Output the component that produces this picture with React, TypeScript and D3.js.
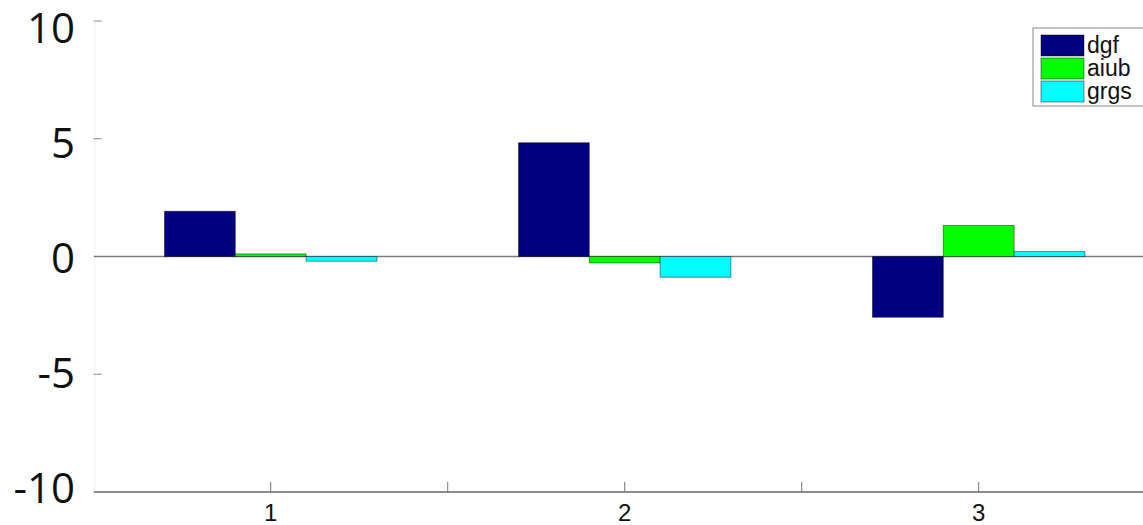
import React from "react";
import { scaleLinear } from "d3";

// values
const groups = [1, 2, 3];
const seriesNames = ["dgf", "aiub", "grgs"];
const dgf = [1.92, 4.83, -2.58];
const aiub = [0.11, -0.27, 1.32];
const grgs = [-0.2, -0.88, 0.21];
const seriesColors = ["#000080", "#00ff00", "#00ffff"];
const yTicks = [10, 5, 0, -5, -10];
const xTicks = [1, 1.5, 2, 2.5, 3];

const W = 1143;
const H = 525;

function App() {
  const series = [dgf, aiub, grgs];
  const x = scaleLinear().domain([1, 3]).range([270.7, 978.7]);
  const y = scaleLinear().domain([-10, 10]).range([492, 21]);
  // tick labels sit slightly inside the axis ends
  const yLabel = scaleLinear().domain([-10, 10]).range([488, 28]);
  const barW = 0.2;
  const x0 = x(0.5);

  return (
    <svg
      width={W}
      height={H}
      style={{ position: "absolute", left: 0, top: 0, background: "#fff" }}
    >
      {/* faint y axis line */}
      <line x1={x0 + 1} x2={x0 + 1} y1={y(10)} y2={y(-10)} stroke="#f0f0f0" />

      {/* zero line */}
      <line x1={x0} x2={W} y1={y(0)} y2={y(0)} stroke="#7a7a7a" strokeWidth={1.3} />

      {/* bars */}
      {series.map((vals, s) =>
        vals.map((v, i) => {
          const left = x(groups[i] - 0.3 + s * barW);
          const right = x(groups[i] - 0.3 + (s + 1) * barW);
          const top = y(Math.max(0, v));
          const bottom = y(Math.min(0, v));
          return (
            <rect
              key={s + "-" + i}
              x={left}
              y={top}
              width={right - left}
              height={bottom - top}
              fill={seriesColors[s]}
              stroke="#000"
              strokeOpacity={0.45}
              strokeWidth={1}
            />
          );
        })
      )}

      {/* y ticks and labels */}
      {yTicks.map((t) => (
        <g key={"y" + t}>
          {t !== 0 && t !== -10 && (
            <line x1={x0} x2={x0 + 8} y1={y(t)} y2={y(t)} stroke="#888" />
          )}
          <text
            x={75}
            y={yLabel(t)}
            dy="0.36em"
            textAnchor="end"
            fontFamily="'Open Sans', 'Noto Sans', sans-serif"
            fontSize={42}
            fill="#111"
          >
            {t}
          </text>
        </g>
      ))}

      {/* x axis */}
      <line x1={x0} x2={W} y1={y(-10)} y2={y(-10)} stroke="#666" strokeWidth={1.3} />
      {xTicks.map((t) => (
        <g key={"x" + t}>
          <line x1={x(t)} x2={x(t)} y1={y(-10)} y2={y(-10) - 10} stroke="#777" />
          {Number.isInteger(t) && (
            <text
              x={x(t)}
              y={521}
              textAnchor="middle"
              fontFamily="'Liberation Sans', Arial, sans-serif"
              fontSize={24}
              fill="#111"
            >
              {t}
            </text>
          )}
        </g>
      ))}

      {/* legend */}
      <rect x={1033} y={28} width={130} height={78} fill="#fff" stroke="#888" />
      {seriesNames.map((name, i) => (
        <g key={name}>
          <rect
            x={1041}
            y={35 + i * 23}
            width={43}
            height={21}
            fill={seriesColors[i]}
            stroke="#000"
            strokeOpacity={0.45}
          />
          <text
            x={1087}
            y={35 + i * 23 + 18}
            fontFamily="'Liberation Sans', Arial, sans-serif"
            fontSize={23}
            fill="#111"
          >
            {name}
          </text>
        </g>
      ))}
    </svg>
  );
}

export default App;
